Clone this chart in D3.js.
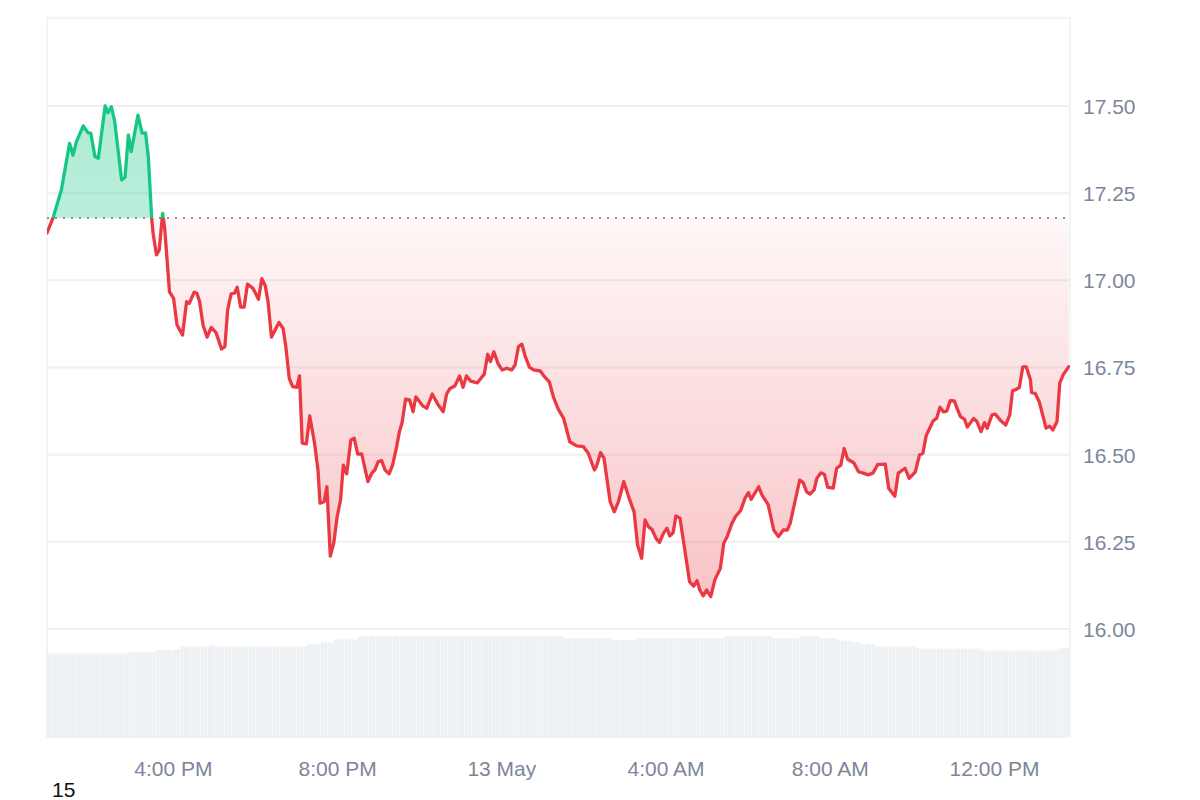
<!DOCTYPE html>
<html><head><meta charset="utf-8">
<script src="https://cdn.jsdelivr.net/npm/d3@7"></script>
<style>html,body{margin:0;padding:0;background:#fff;} svg{display:block;}</style>
</head><body><svg id="chart" width="1200" height="800"></svg>
<script>
// ---------- data ----------
const startTime = "2024-05-12T12:56";
const endTime = "2024-05-13T13:51";
const minutesFromStart = [0,9,21,33,38,43,53,60,64,70,75,85,89,94,99,109,114,119,123,133,139,144,148,153,155,160,164,169,172,179,185,190,198,204,208,215,219,223,228,234,240,247,255,260,264,269,274,278,283,288,293,301,309,314,319,323,328,339,345,349,354,359,365,369,373,379,384,391,396,399,405,409,414,419,424,429,433,438,444,449,454,460,463,469,475,479,484,489,494,500,505,511,515,519,524,530,535,539,549,555,563,571,579,584,589,596,603,608,613,619,629,639,644,648,653,659,665,672,679,684,689,694,699,705,711,721,726,734,740,747,755,764,774,784,791,800,803,809,814,823,829,835,843,850,858,863,869,874,879,884,890,895,901,906,910,915,919,925,931,939,945,950,954,959,964,970,976,984,989,994,1001,1006,1014,1020,1025,1029,1040,1045,1054,1062,1069,1076,1082,1086,1093,1100,1105,1110,1115,1121,1125,1131,1136,1141,1149,1154,1160,1165,1170,1179,1186,1193,1200,1207,1214,1220,1225,1230,1239,1244,1254,1260,1269,1275,1280,1285,1291,1295,1300,1305,1310,1315,1320,1326,1330,1335,1341,1345,1354,1359,1365,1370,1374,1381,1386,1394,1401,1407,1411,1416,1421,1426,1431,1437,1439,1444,1450,1460,1465,1470,1476,1480,1485,1493];
const prices = [17.136,17.180,17.259,17.393,17.359,17.398,17.443,17.423,17.422,17.355,
17.350,17.500,17.481,17.498,17.455,17.288,17.296,17.417,17.369,17.474,
17.422,17.423,17.355,17.178,17.135,17.073,17.087,17.192,17.149,16.967,
16.948,16.872,16.843,16.939,16.934,16.966,16.963,16.939,16.872,16.837,
16.865,16.850,16.803,16.810,16.915,16.961,16.963,16.980,16.923,16.923,
16.989,16.977,16.946,17.005,16.984,16.939,16.837,16.879,16.862,16.810,
16.719,16.695,16.693,16.726,16.533,16.531,16.611,16.533,16.456,16.361,
16.365,16.408,16.209,16.246,16.322,16.370,16.470,16.445,16.542,16.547,
16.502,16.502,16.475,16.423,16.448,16.456,16.480,16.483,16.456,16.445,
16.470,16.523,16.566,16.592,16.659,16.657,16.623,16.666,16.640,16.633,
16.674,16.645,16.623,16.674,16.690,16.697,16.726,16.693,16.726,16.711,
16.706,16.731,16.788,16.767,16.795,16.762,16.743,16.748,16.743,16.757,
16.810,16.817,16.781,16.751,16.743,16.740,16.726,16.709,16.666,16.631,
16.604,16.537,16.525,16.523,16.504,16.456,16.466,16.506,16.490,16.365,
16.336,16.365,16.423,16.379,16.336,16.241,16.203,16.313,16.293,16.286,
16.260,16.248,16.275,16.289,16.267,16.276,16.324,16.318,16.241,16.136,
16.123,16.139,16.112,16.095,16.112,16.093,16.141,16.174,16.246,16.265,
16.303,16.322,16.341,16.375,16.391,16.372,16.408,16.384,16.356,16.284,
16.265,16.284,16.284,16.303,16.365,16.427,16.420,16.394,16.387,16.399,
16.432,16.448,16.444,16.406,16.404,16.461,16.470,16.518,16.487,16.477,
16.451,16.447,16.442,16.447,16.472,16.472,16.473,16.404,16.381,16.447,
16.461,16.432,16.451,16.499,16.504,16.556,16.580,16.597,16.604,16.636,
16.623,16.625,16.655,16.654,16.633,16.609,16.601,16.579,16.604,16.595,
16.566,16.592,16.576,16.614,16.616,16.597,16.585,16.614,16.683,16.687,
16.693,16.752,16.752,16.716,16.678,16.676,16.652,16.576,16.582,16.571,
16.595,16.705,16.729,16.752];
const referencePrice = 17.179;

// volume (millions), stepwise levels
const volumeStartMin = [0,117,158,181,191,238,243,376,396,418,453,753,823,856,988,1057,1098,1130,1152,1171,1188,1207,1266,1364,1478];
const volumeLevel = [20.9,21.2,21.7,21.9,22.6,23.1,22.6,23.2,23.7,24.4,25.25,24.7,24.25,24.7,25.25,24.7,25.25,24.7,24.1,23.7,23.25,22.6,22.1,21.6,22.2];
const volumeIntervalMin = 5;

const priceTicks = [16.00,16.25,16.50,16.75,17.00,17.25,17.50];
const timeTicks = ["2024-05-12T16:00","2024-05-12T20:00","2024-05-13T00:00","2024-05-13T04:00","2024-05-13T08:00","2024-05-13T12:00"];
const cornerLabel = "15";

// ---------- layout ----------
const plot = {left: 47, right: 1070, top: 18, bottom: 737};
const volumeHeight = 101;
const FONT = '"Liberation Sans", Arial, Helvetica, sans-serif';
const UP = "#16c784", DOWN = "#ea3943";

const parse = d3.timeParse("%Y-%m-%dT%H:%M");
const t0 = parse(startTime), t1 = parse(endTime);
const data = minutesFromStart.map((m, i) => ({t: d3.timeMinute.offset(t0, m), v: prices[i]}));

const x = d3.scaleTime().domain([t0, t1]).range([plot.left, plot.right]);
const y = d3.scaleLinear().domain([15.6903, 17.7524]).range([plot.bottom, plot.top]);
const yv = d3.scaleLinear().domain([0, 25.25]).range([plot.bottom, plot.bottom - volumeHeight]);

const svg = d3.select("#chart");
const defs = svg.append("defs");
const baseY = y(referencePrice);

defs.append("clipPath").attr("id", "clipUp").append("rect")
  .attr("x", plot.left).attr("y", plot.top - 10).attr("width", plot.right - plot.left).attr("height", baseY - plot.top + 10);
defs.append("clipPath").attr("id", "clipDown").append("rect")
  .attr("x", plot.left).attr("y", baseY).attr("width", plot.right - plot.left).attr("height", plot.bottom - baseY);

const gDown = defs.append("linearGradient").attr("id", "gradDown")
  .attr("gradientUnits", "userSpaceOnUse").attr("x1", 0).attr("x2", 0)
  .attr("y1", baseY).attr("y2", y(d3.min(prices)));
gDown.append("stop").attr("offset", 0).attr("stop-color", DOWN).attr("stop-opacity", 0.04);
gDown.append("stop").attr("offset", 1).attr("stop-color", DOWN).attr("stop-opacity", 0.30);

const gUp = defs.append("linearGradient").attr("id", "gradUp")
  .attr("gradientUnits", "userSpaceOnUse").attr("x1", 0).attr("x2", 0)
  .attr("y1", y(d3.max(prices))).attr("y2", baseY);
gUp.append("stop").attr("offset", 0).attr("stop-color", UP).attr("stop-opacity", 0.34);
gUp.append("stop").attr("offset", 1).attr("stop-color", UP).attr("stop-opacity", 0.30);

// frame
svg.append("rect").attr("x", plot.left).attr("y", plot.top)
  .attr("width", plot.right - plot.left).attr("height", plot.bottom - plot.top)
  .attr("fill", "none").attr("stroke", "#f0f1f3").attr("stroke-width", 1.5);

// grid lines
svg.append("g").selectAll("line").data(priceTicks).join("line")
  .attr("x1", plot.left).attr("x2", plot.right)
  .attr("y1", d => y(d)).attr("y2", d => y(d))
  .attr("stroke", "#eff0f2").attr("stroke-width", 2);

// volume bars
const volTimes = d3.range(0, 1495, volumeIntervalMin);
function volAt(m) {
  const i = d3.bisectRight(volumeStartMin, m) - 1;
  return volumeLevel[Math.max(0, i)];
}
const barW = x(d3.timeMinute.offset(t0, volumeIntervalMin)) - x(t0);
svg.append("g").selectAll("rect").data(volTimes).join("rect")
  .attr("x", m => x(d3.timeMinute.offset(t0, m)))
  .attr("width", Math.max(0.5, barW - 0.25))
  .attr("y", m => yv(volAt(m)))
  .attr("height", m => plot.bottom - yv(volAt(m)))
  .attr("fill", "#eef1f4");

// areas
const area = d3.area().x(d => x(d.t)).y0(baseY).y1(d => y(d.v));
svg.append("path").datum(data).attr("d", area).attr("fill", "url(#gradUp)").attr("clip-path", "url(#clipUp)");
svg.append("path").datum(data).attr("d", area).attr("fill", "url(#gradDown)").attr("clip-path", "url(#clipDown)");

// reference dotted line
svg.append("line").attr("x1", plot.left).attr("x2", plot.right)
  .attr("y1", baseY).attr("y2", baseY)
  .attr("stroke", "#8e939c").attr("stroke-width", 2).attr("stroke-dasharray", "2,6");

// price line
const line = d3.line().x(d => x(d.t)).y(d => y(d.v));
svg.append("path").datum(data).attr("d", line).attr("fill", "none")
  .attr("stroke", UP).attr("stroke-width", 3.3).attr("stroke-linejoin", "round").attr("stroke-linecap", "round")
  .attr("clip-path", "url(#clipUp)");
svg.append("path").datum(data).attr("d", line).attr("fill", "none")
  .attr("stroke", DOWN).attr("stroke-width", 3.3).attr("stroke-linejoin", "round").attr("stroke-linecap", "round")
  .attr("clip-path", "url(#clipDown)");

// y axis (right)
const yAxis = svg.append("g").attr("transform", `translate(${plot.right},0)`)
  .call(d3.axisRight(y).tickValues(priceTicks).tickFormat(d3.format(".2f")).tickSize(0).tickPadding(13));
yAxis.select(".domain").remove();
yAxis.selectAll("text").attr("fill", "#7d8699").attr("font-size", 21).attr("font-family", FONT).attr("dy", "0.35em");

// x axis
const fmtTime = d3.timeFormat("%-I:%M %p"), fmtDay = d3.timeFormat("%-d %b");
const xAxis = svg.append("g").attr("transform", `translate(0,${plot.bottom})`)
  .call(d3.axisBottom(x).tickValues(timeTicks.map(parse))
    .tickFormat(d => (d.getHours() === 0 && d.getMinutes() === 0) ? fmtDay(d) : fmtTime(d))
    .tickSize(0).tickPadding(24));
xAxis.select(".domain").remove();
xAxis.selectAll("text").attr("fill", "#7d8699").attr("font-size", 21).attr("font-family", FONT);

// corner label
svg.append("text").attr("x", 52).attr("y", 797).text(cornerLabel)
  .attr("font-family", FONT).attr("font-size", 21).attr("fill", "#111");
</script>
</body></html>
